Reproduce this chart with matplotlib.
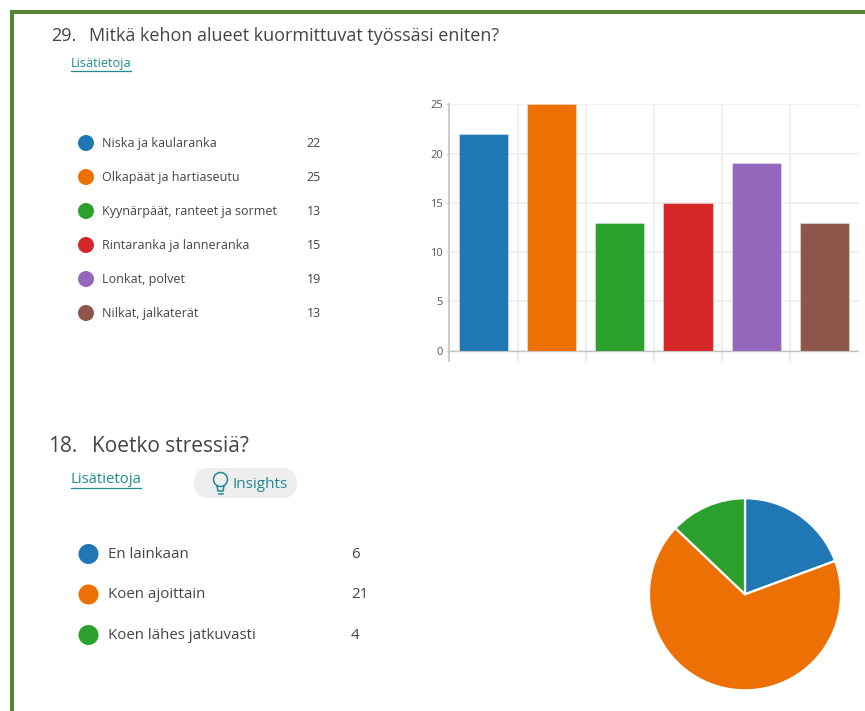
"""Two survey result panels from a forms summary: a bar chart and a pie chart."""

import matplotlib

matplotlib.use("Agg")

import matplotlib.pyplot as plt
from matplotlib.patches import Circle, FancyBboxPatch, Rectangle

W, H = 865, 711

body_labels = ["Niska ja kaularanka", "Olkapäät ja hartiaseutu", "Kyynärpäät, ranteet ja sormet",
               "Rintaranka ja lanneranka", "Lonkat, polvet", "Nilkat, jalkaterät"]
body_counts = [22, 25, 13, 15, 19, 13]
body_colors = ["#1f77b4", "#ed7004", "#2ca02c", "#d62728", "#9467bd", "#8c564b"]
y_ticks = [0, 5, 10, 15, 20, 25]

stress_labels = ["En lainkaan", "Koen ajoittain", "Koen lähes jatkuvasti"]
stress_counts = [6, 21, 4]
stress_colors = ["#1f77b4", "#ed7004", "#2ca02c"]

INK = "#444444"
LINK = "#1f8a8f"
FRAME = "#568536"

plt.rcParams["font.family"] = ["Open Sans", "DejaVu Sans"]

fig = plt.figure(figsize=(W / 100, H / 100), dpi=100, facecolor="white")


def px_axes(left, top, right, bottom):
    """Axes placed by pixel box, measured from the top-left of the image."""
    return fig.add_axes([left / W, 1 - bottom / H, (right - left) / W, (bottom - top) / H])


# Page layer in image pixels, for the frame, headings and legends.
page = px_axes(0, 0, W, H)
page.set_xlim(0, W)
page.set_ylim(H, 0)
page.axis("off")

page.add_patch(Rectangle((9.5, 10), W, 4, color=FRAME, lw=0))
page.add_patch(Rectangle((9.5, 10), 4, H, color=FRAME, lw=0))


def link(x, y, size, width):
    page.text(x, y, "Lisätietoja", color=LINK, fontsize=size, ha="left", va="center")
    under = y + 0.75 * size
    page.plot([x, x + width], [under, under], color=LINK, lw=0.9)


def legend(labels, counts, colors, first_y, step, dot_x, dot_r, text_x, count_x, size):
    for i, (label, count, color) in enumerate(zip(labels, counts, colors)):
        y = first_y + i * step
        page.add_patch(Circle((dot_x, y), dot_r, color=color, lw=0))
        page.text(text_x, y + 0.5, label, color=INK, fontsize=size, ha="left", va="center")
        page.text(count_x, y + 0.5, str(count), color=INK, fontsize=size, ha="left", va="center")


# First question
page.text(51, 36, "29.", color=INK, fontsize=13, ha="left", va="center")
page.text(89, 36, "Mitkä kehon alueet kuormittuvat työssäsi eniten?", color=INK, fontsize=13,
          ha="left", va="center")
link(71, 64, 9.2, 60)
legend(body_labels, body_counts, body_colors, 143, 34, 86, 8, 102.5, 306.5, 9.0)

# Second question
page.text(48, 446, "18.", color=INK, fontsize=15, ha="left", va="center")
page.text(92, 446, "Koetko stressiä?", color=INK, fontsize=15, ha="left", va="center")
link(71, 479.5, 10.7, 70)
page.add_patch(FancyBboxPatch((194, 468), 103, 30, boxstyle="round,pad=0,rounding_size=15",
                              facecolor="#eeeeee", edgecolor="none"))
# Light bulb icon in the pill.
page.add_patch(Circle((220.5, 479.5), 7, facecolor="none", edgecolor=LINK, lw=1.1))
page.plot([217, 218, 223, 224], [486, 491, 491, 486], color=LINK, lw=1.1)
page.plot([218.5, 222.5], [493.5, 493.5], color=LINK, lw=1.1)
page.text(232, 484, "Insights", color=LINK, fontsize=11, ha="left", va="center")
legend(stress_labels, stress_counts, stress_colors, 554, 40.5, 88.5, 10, 108.5, 351, 10.8)

# Bar chart: the ticks hang below the zero line.
bar_ax = px_axes(449.3, 104.3, 858.5, 350.7)
bar_ax.bar(range(len(body_counts)), body_counts, width=0.72, color=body_colors,
           edgecolor=(1, 1, 1, 0.35), linewidth=0.8, zorder=3)
bar_ax.set_xlim(-0.5, len(body_counts) - 0.5)
bar_ax.set_ylim(0, 25)
bar_ax.set_yticks(y_ticks)
bar_ax.set_xticks([i - 0.5 for i in range(len(body_counts))])
bar_ax.set_xticklabels([])
bar_ax.grid(color="#eeeeee", lw=1.2, zorder=0)
bar_ax.tick_params(axis="x", length=8, color="#e6e6e6", width=1.2)
bar_ax.tick_params(axis="y", length=2.5, color="#d8d8d8", width=1, labelsize=8,
                   labelcolor="#555555", pad=2)
for side in ("top", "right"):
    bar_ax.spines[side].set_visible(False)
bar_ax.spines["left"].set_color("#cccccc")
bar_ax.spines["left"].set_linewidth(1.4)
bar_ax.spines["bottom"].set_color("#c4c4c4")
bar_ax.spines["bottom"].set_linewidth(1.0)
# The first tick continues the y axis line downwards.
first_tick = bar_ax.xaxis.get_major_ticks()[0]
first_tick.tick1line.set_markeredgecolor("#cccccc")
first_tick.tick1line.set_markeredgewidth(1.4)

# Pie chart, clockwise from twelve o'clock.
pie_ax = px_axes(745 - 97, 594.3 - 97, 745 + 97, 594.3 + 97)
pie_ax.pie(stress_counts, colors=stress_colors, startangle=90, counterclock=False, radius=1,
           wedgeprops={"edgecolor": "white", "linewidth": 1.6})
pie_ax.set_xlim(-1.01, 1.01)
pie_ax.set_ylim(-1.01, 1.01)

fig.savefig("out.png", dpi=100)
plt.close(fig)
